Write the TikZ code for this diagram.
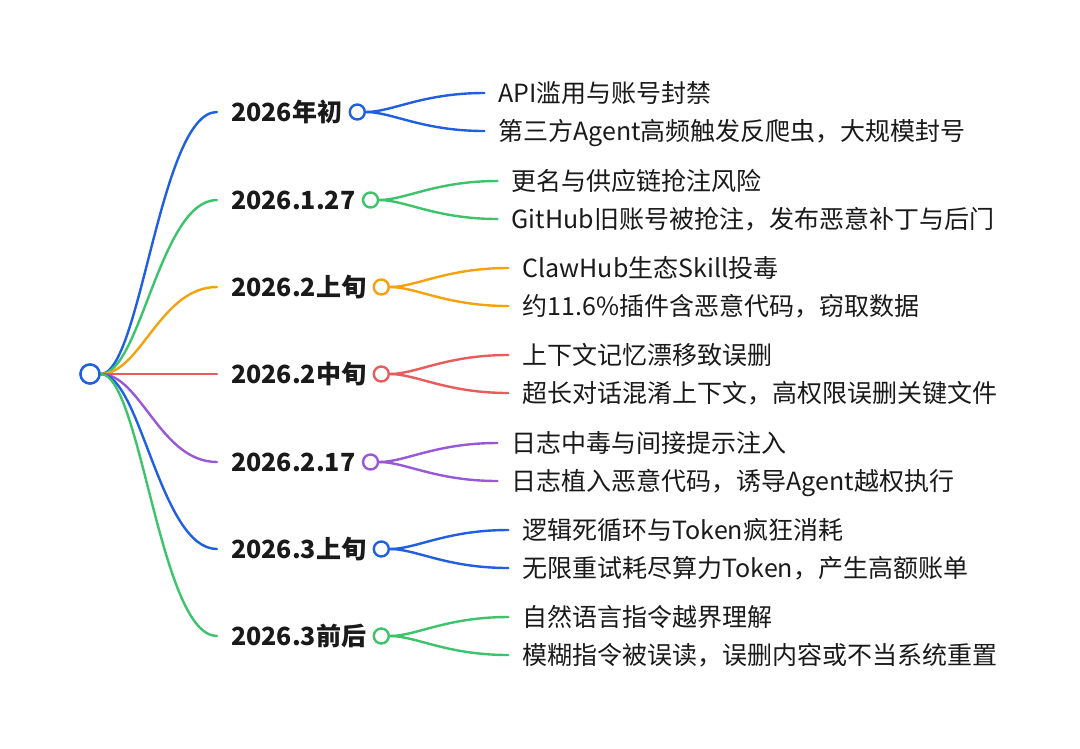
\documentclass[tikz,border=0pt]{standalone}
\usepackage{fontspec}
\setmainfont{Noto Sans CJK SC}
\usetikzlibrary{calc}
\definecolor{cblue}{HTML}{1F5FE0}
\definecolor{cgreen}{HTML}{3CC46C}
\definecolor{corange}{HTML}{F5A20F}
\definecolor{cred}{HTML}{EC5B5B}
\definecolor{cpurple}{HTML}{9858D8}
\definecolor{ctext}{HTML}{1A1A1A}
\newcommand\mybranch[6]{%
  \node[cat] (c#1) at (231,#3) {#4};
  \node[dot, draw=#2] (o#1) at ($(c#1.east)+(15,0)$) {};
  \node[leaf] (a#1) at ($(o#1)+(141,-19)$) {#5};
  \node[leaf] (b#1) at ($(o#1)+(141,19)$) {#6};
  \coordinate (e#1) at (217,#3);
  \coordinate (ea#1) at ($(a#1.west)+(-14,0)$);
  \coordinate (eb#1) at ($(b#1.west)+(-14,0)$);
  \draw[conn,#2] (r.east) .. controls +(40,0) and +(-57,0) .. (e#1);
  \draw[conn,#2] (o#1.east) .. controls +(26,0) and +(-62,0) .. (ea#1);
  \draw[conn,#2] (o#1.east) .. controls +(26,0) and +(-62,0) .. (eb#1);
}
\begin{document}
\begin{tikzpicture}[x=1pt,y=-1pt,
  conn/.style={line width=2.4pt, line cap=round},
  cat/.style={font=\fontsize{25}{30}\selectfont\bfseries, inner sep=0pt, anchor=west, text height=22pt, text depth=3pt, text=ctext},
  leaf/.style={font=\fontsize{25}{30}\selectfont, inner sep=0pt, anchor=west, text height=22pt, text depth=3pt, text=ctext},
  dot/.style={circle, draw, fill=white, line width=2.4pt, minimum size=15pt, inner sep=0pt}]
\useasboundingbox[fill=white] (0,0) rectangle (1080,748);
\node[dot, draw=cblue, minimum size=19pt] (r) at (90,374) {};
\mybranch{1}{cblue}{112}{2026年初}{API滥用与账号封禁}{第三方Agent高频触发反爬虫，大规模封号}
\mybranch{2}{cgreen}{200}{2026.1.27}{更名与供应链抢注风险}{GitHub旧账号被抢注，发布恶意补丁与后门}
\mybranch{3}{corange}{287}{2026.2上旬}{ClawHub生态Skill投毒}{约11.6\%插件含恶意代码，窃取数据}
\mybranch{4}{cred}{374}{2026.2中旬}{上下文记忆漂移致误删}{超长对话混淆上下文，高权限误删关键文件}
\mybranch{5}{cpurple}{462}{2026.2.17}{日志中毒与间接提示注入}{日志植入恶意代码，诱导Agent越权执行}
\mybranch{6}{cblue}{549}{2026.3上旬}{逻辑死循环与Token疯狂消耗}{无限重试耗尽算力Token，产生高额账单}
\mybranch{7}{cgreen}{636}{2026.3前后}{自然语言指令越界理解}{模糊指令被误读，误删内容或不当系统重置}
\node[dot, draw=cblue, minimum size=19pt] (r2) at (r) {};
\end{tikzpicture}
\end{document}
